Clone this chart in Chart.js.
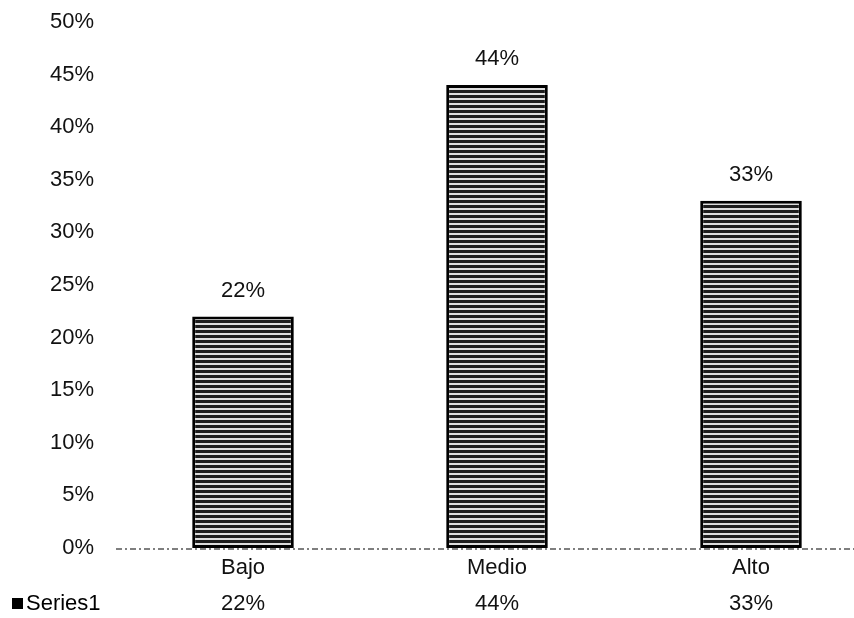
<!DOCTYPE html>
<html>
<head>
<meta charset="utf-8">
<script src="https://cdn.jsdelivr.net/npm/chart.js@4.4.0/dist/chart.umd.min.js"></script>
<style>
  html, body { margin: 0; padding: 0; background: #fff; overflow: hidden; }
  #wrap { width: 880px; height: 618px; }
</style>
</head>
<body>
<div id="wrap"><canvas id="chart" width="880" height="618"></canvas></div>
<script>
// chart data
const categories = ['Bajo', 'Medio', 'Alto'];
const seriesName = 'Series1';
const values = [22, 44, 33];
const yTicks = [0, 5, 10, 15, 20, 25, 30, 35, 40, 45, 50];

const FONT = '"Liberation Sans", Arial, sans-serif';

// striped fill like the scanned bars
function makeStripes() {
    const c = document.createElement('canvas');
    c.width = 8;
    c.height = 5;
    const g = c.getContext('2d');
    g.fillStyle = '#dcdcdc';
    g.fillRect(0, 0, 8, 5);
    g.fillStyle = '#1c1c1c';
    g.fillRect(0, 0, 8, 3);
    return g.createPattern(c, 'repeat');
}

// value labels above bars + legend key of data table + baseline
const extras = {
    id: 'extras',
    afterDatasetsDraw(chart) {
        const ctx = chart.ctx;
        const meta = chart.getDatasetMeta(0);
        ctx.save();
        ctx.fillStyle = '#111';
        ctx.font = '22px ' + FONT;
        ctx.textAlign = 'center';
        ctx.textBaseline = 'middle';
        meta.data.forEach((bar, i) => {
            ctx.fillText(values[i] + '%', bar.x, bar.y - 26);
        });

        // baseline
        const y0 = chart.scales.y.getPixelForValue(0);
        ctx.strokeStyle = '#555';
        ctx.lineWidth = 1.5;
        ctx.setLineDash([6, 3, 2, 3]);
        ctx.beginPath();
        ctx.moveTo(chart.chartArea.left, y0 + 1);
        ctx.lineTo(chart.chartArea.right, y0 + 1);
        ctx.stroke();
        ctx.setLineDash([]);

        // table row key
        ctx.fillStyle = '#000';
        ctx.fillRect(12, 598, 11, 11);
        ctx.textAlign = 'left';
        ctx.fillText(seriesName, 26, 604);
        ctx.restore();
    }
};

const chart = new Chart(document.getElementById('chart'), {
    type: 'bar',
    data: {
        labels: categories.map((c, i) => [c, values[i] + '%']),
        datasets: [{
            label: seriesName,
            data: values,
            backgroundColor: makeStripes(),
            borderColor: '#000',
            borderWidth: 3,
            borderSkipped: false,
            barPercentage: 0.8,
            categoryPercentage: 0.5
        }]
    },
    options: {
        responsive: false,
        animation: false,
        layout: { padding: { top: 22, right: 2, left: 0, bottom: 0 } },
        plugins: {
            legend: { display: false },
            tooltip: { enabled: false }
        },
        scales: {
            x: {
                grid: { display: false, drawTicks: false },
                border: { display: false },
                ticks: {
                    color: '#111',
                    font: { family: FONT, size: 22, lineHeight: 1.64 },
                    padding: 2,
                    maxRotation: 0
                },
                afterFit(scale) { scale.height = 70; }
            },
            y: {
                min: 0,
                max: 50,
                afterBuildTicks(scale) {
                    scale.ticks = yTicks.map(v => ({ value: v }));
                },
                grid: { display: false, drawTicks: false },
                border: { display: false },
                ticks: {
                    color: '#111',
                    font: { family: FONT, size: 22 },
                    padding: 22,
                    callback: v => v + '%'
                },
                afterFit(scale) {
                    scale.width = 116;
                    scale.paddingTop = 0;
                    scale.paddingBottom = 0;
                }
            }
        }
    },
    plugins: [extras]
});
</script>
</body>
</html>
